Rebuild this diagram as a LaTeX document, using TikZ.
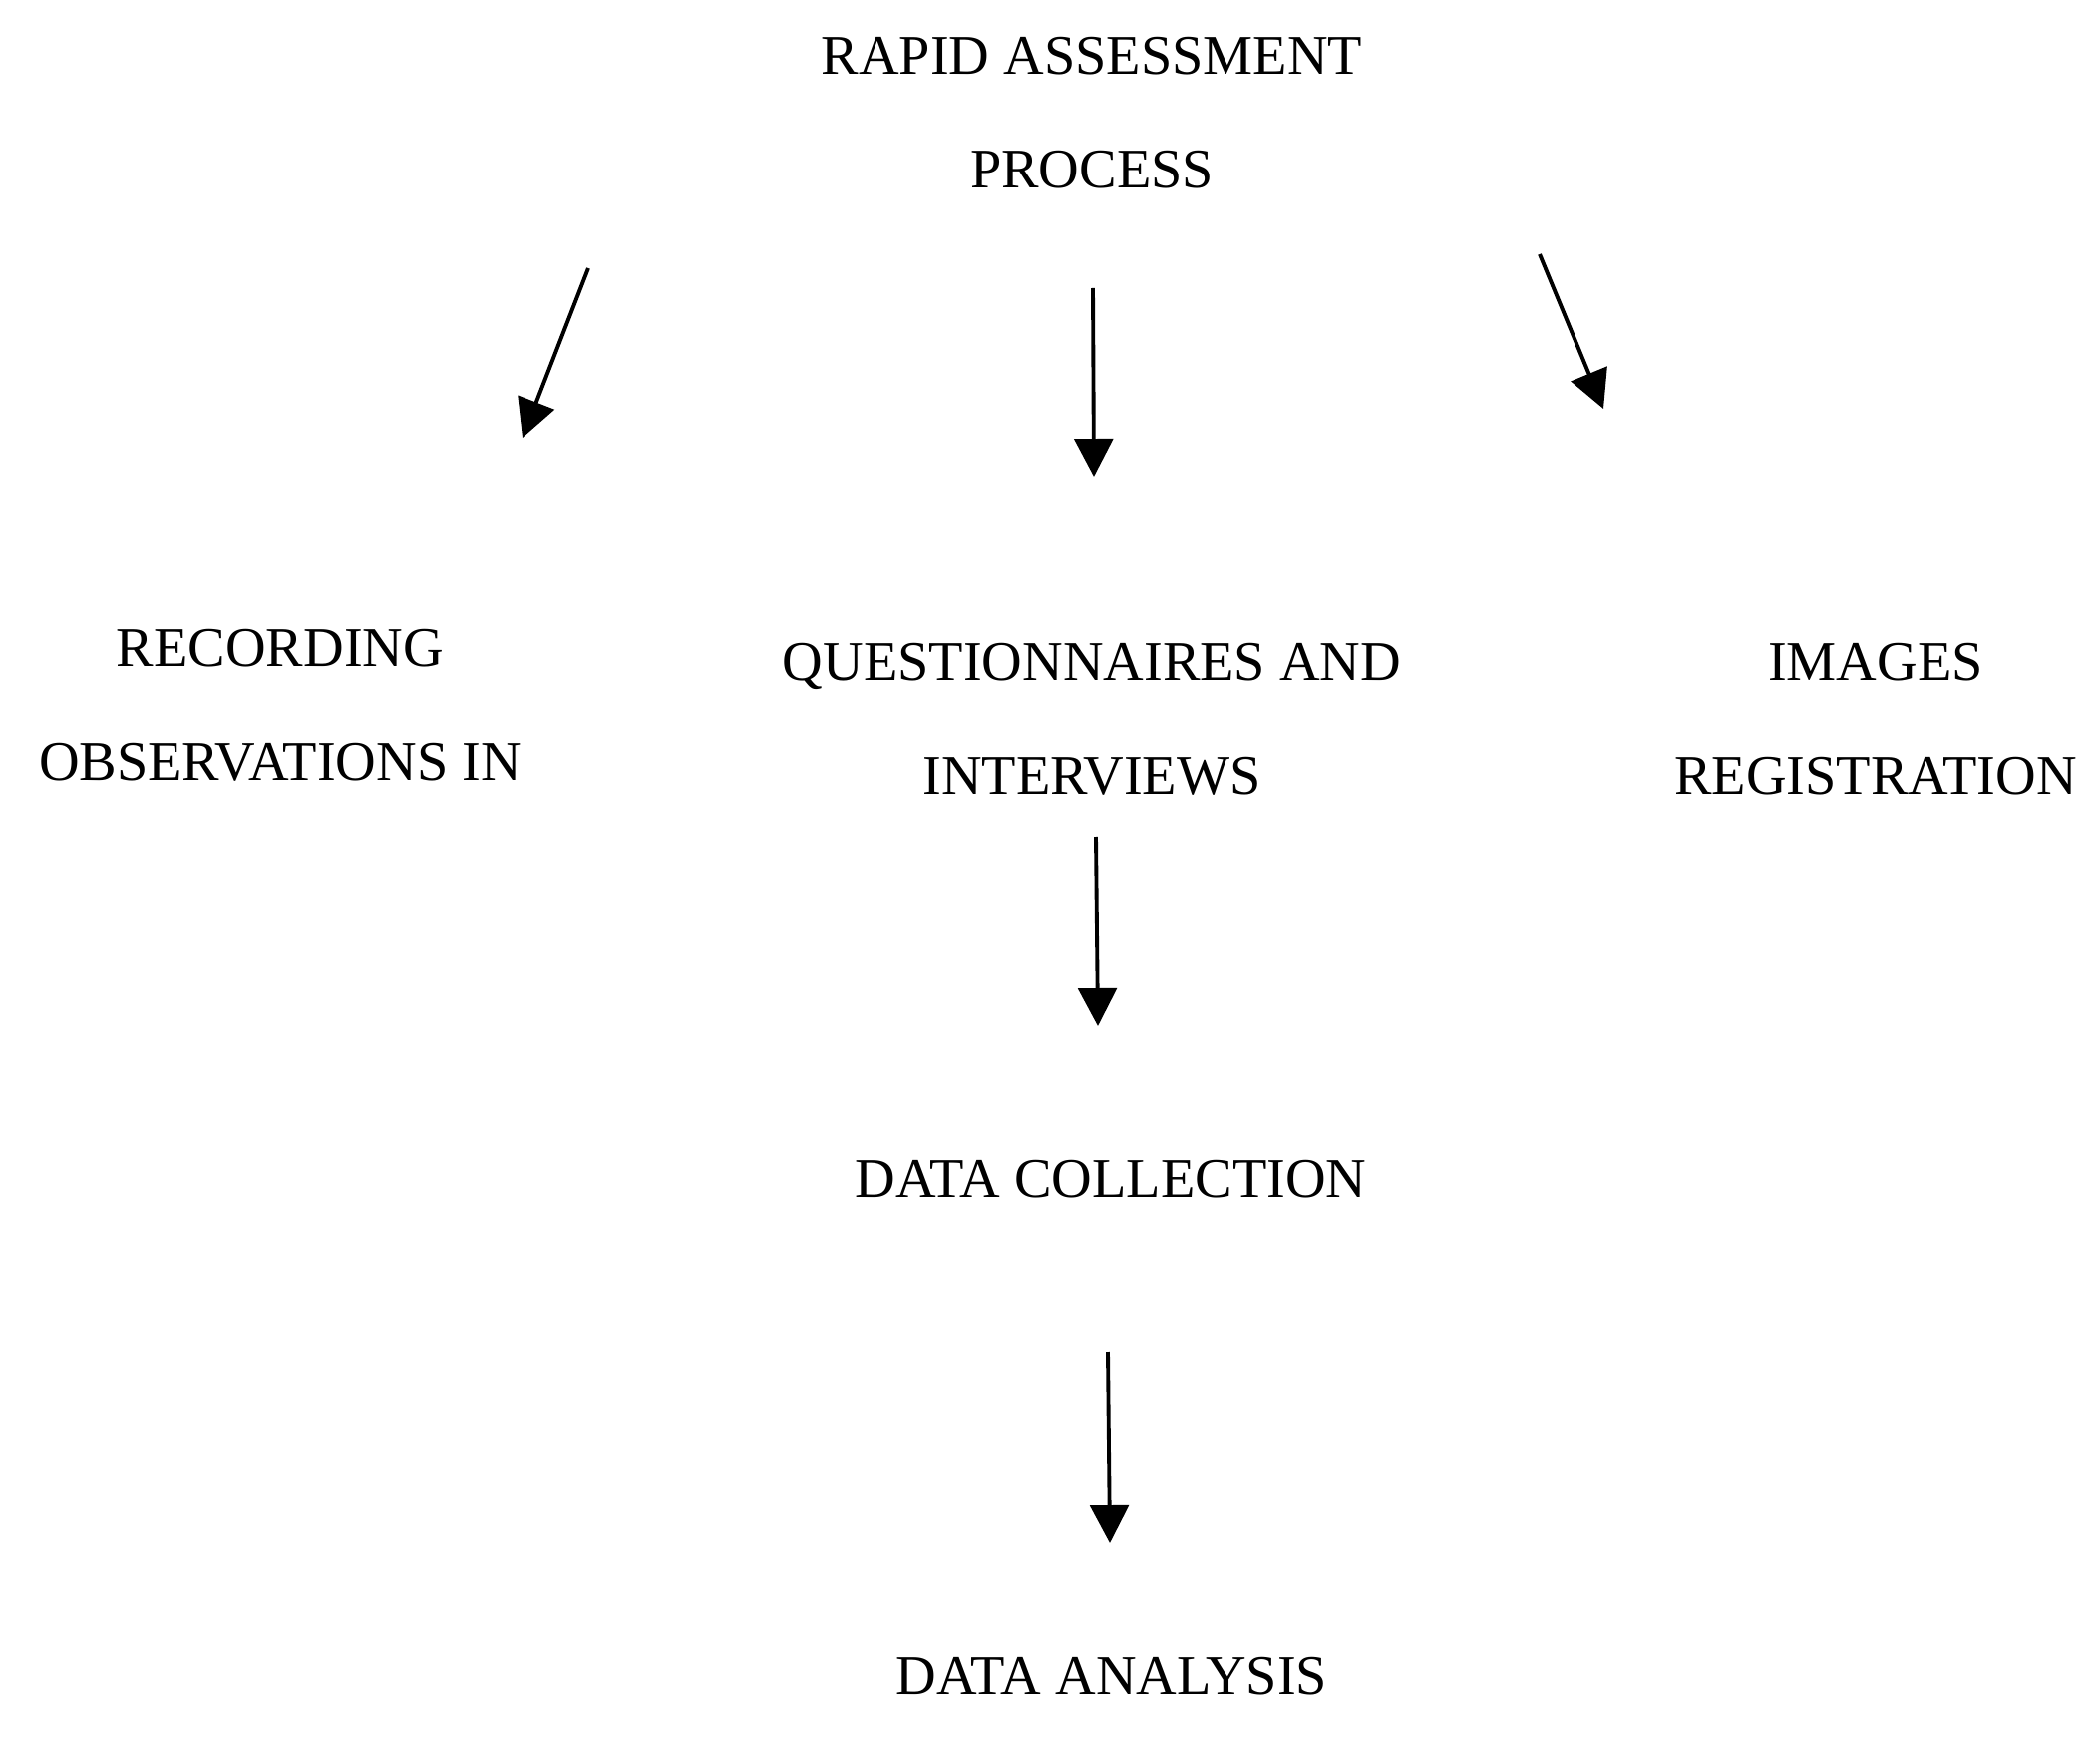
\documentclass[tikz,border=0pt]{standalone}
\usepackage{fontspec}
\setmainfont{Liberation Serif}
\usetikzlibrary{arrows.meta}
\begin{document}
\begin{tikzpicture}[x=0.01cm,y=-0.01cm,
  lbl/.style={align=center,inner sep=0pt,font=\fontsize{16}{32.5}\selectfont},
  conn/.style={line width=1.1pt,-{Triangle[length=10.8pt,width=11pt]}}]
\fill[white] (0,0) rectangle (2106,1743);
\useasboundingbox (0,0) rectangle (2106,1743);
% text nodes
\node[lbl] (rap) at (1095,113) {RAPID ASSESSMENT\\PROCESS};
\node[lbl] (rec) at (281,707) {RECORDING\\OBSERVATIONS IN};
\node[lbl] (que) at (1095,721) {QUESTIONNAIRES AND\\INTERVIEWS};
\node[lbl] (img) at (1881,721) {IMAGES\\REGISTRATION};
\node[lbl] (dcol) at (1114,1182) {DATA COLLECTION};
\node[lbl] (dana) at (1115,1681) {DATA ANALYSIS};
% arrow end points
\coordinate (a1s) at (590,269);  \coordinate (a1e) at (524,439);
\coordinate (a2s) at (1096,289); \coordinate (a2e) at (1097,478);
\coordinate (a3s) at (1544,255); \coordinate (a3e) at (1608,410);
\coordinate (a4s) at (1099,839); \coordinate (a4e) at (1101,1029);
\coordinate (a5s) at (1111,1356); \coordinate (a5e) at (1113,1547);
\draw[conn] (a1s) -- (a1e);
\draw[conn] (a2s) -- (a2e);
\draw[conn] (a3s) -- (a3e);
\draw[conn] (a4s) -- (a4e);
\draw[conn] (a5s) -- (a5e);
\end{tikzpicture}
\end{document}
